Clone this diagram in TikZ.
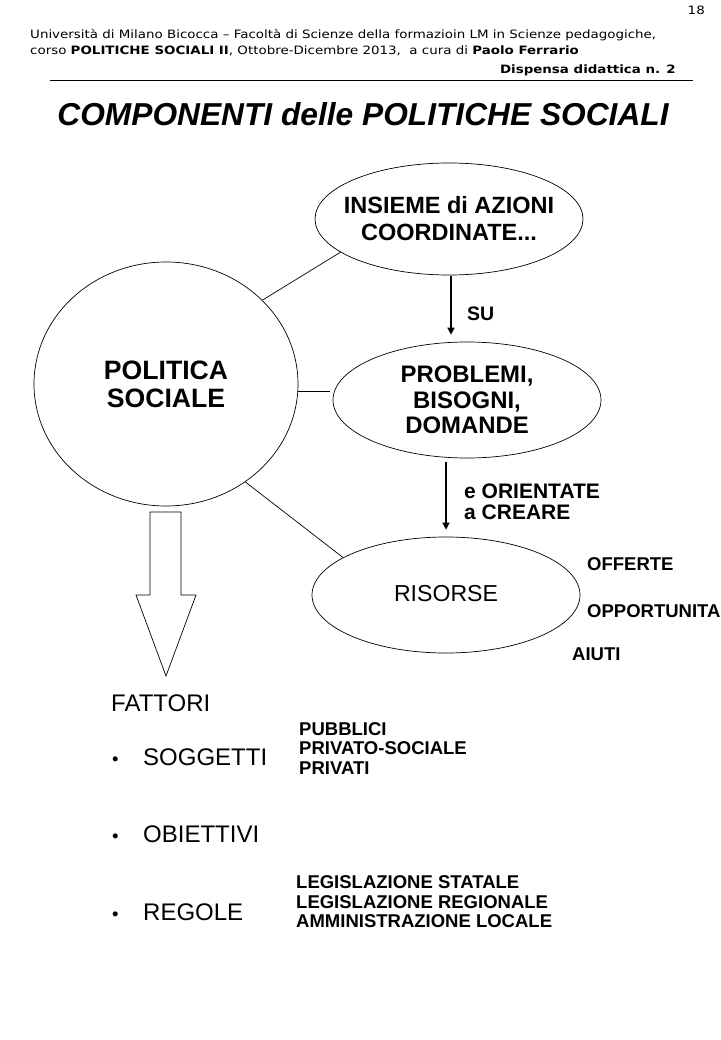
\documentclass[tikz,border=0pt]{standalone}
\usepackage{fontspec}
\setmainfont{Liberation Sans}
\newfontfamily\verd[FakeStretch=1.166]{DejaVu Sans}
\usetikzlibrary{shapes.geometric,arrows.meta}
\begin{document}
\begin{tikzpicture}[x=1pt,y=-1pt,
  ell/.style={ellipse,draw,line width=0.7pt,inner sep=0pt},
  lbl/.style={anchor=base west,inner sep=0pt},
  hdr/.style={anchor=base west,inner sep=0pt,font=\verd\fontsize{11.5}{13}\selectfont},
  etext/.style={align=center,inner sep=0pt,font=\bfseries\fontsize{23.5}{27}\selectfont},
  sidebold/.style={anchor=base west,inner sep=0pt,align=left,font=\bfseries\fontsize{18.5}{20}\selectfont},
  fattore/.style={anchor=base west,inner sep=0pt,font=\fontsize{24}{28}\selectfont},
  bullet/.style={anchor=base west,inner sep=0pt,font=\fontsize{18.5}{20}\selectfont},
  conn/.style={line width=0.7pt},
  arr/.style={line width=1.5pt,-{Triangle[length=7pt,width=7pt]}},
]
\useasboundingbox (0,0) rectangle (720,1040);
\fill[white] (0,0) rectangle (720,1040);

% header
\node[hdr,anchor=base east] (pg) at (705,15) {18};
\node[hdr] (h1) at (30,38.5) {Università di Milano Bicocca – Facoltà di Scienze della formazioin LM in Scienze pedagogiche,};
\node[hdr] (h2) at (30,54.5) {corso \textbf{POLITICHE SOCIALI II}, Ottobre-Dicembre 2013,\ \ a cura di \textbf{Paolo Ferrario}};
\node[hdr,anchor=base east] (h3) at (676,73.5) {\textbf{Dispensa didattica n. 2}};
\draw[line width=1pt] (50,81) -- (693,81);

% title
\node[anchor=base,inner sep=0pt,font=\bfseries\itshape\fontsize{31.7}{36}\selectfont] (title) at (363,126) {COMPONENTI delle POLITICHE SOCIALI};

% shapes
\node[ell,minimum width=268pt,minimum height=112pt] (ins) at (449,219) {};
\node[etext] (inst) at (ins.center) {INSIEME di AZIONI\\COORDINATE...};
\node[ell,minimum width=264pt,minimum height=244pt] (pol) at (166,384) {};
\node[etext,font=\bfseries\fontsize{26.6}{28}\selectfont] (polt) at (pol.center) {POLITICA\\SOCIALE};
\node[ell,minimum width=268pt,minimum height=116pt] (prob) at (467,400) {};
\node[etext,font=\bfseries\fontsize{23.9}{25.5}\selectfont] (probt) at (prob.center) {PROBLEMI,\\BISOGNI,\\DOMANDE};
\node[ell,minimum width=268pt,minimum height=116pt] (ris) at (446,595) {};
\node[etext,font=\fontsize{23.1}{26}\selectfont] (rist) at ([yshift=1pt]ris.center) {RISORSE};

% connectors
\draw[conn] (pol.41) -- (ins.197);
\draw[conn] (pol.-3) -- ([xshift=-3pt]pol.-3 -| prob.west);
\draw[conn] (pol.-51.5) -- (ris.160);
\draw[arr] ([xshift=2pt,yshift=-1pt]ins.south) -- ([xshift=-16pt,yshift=7pt]prob.north);
\draw[arr] ([xshift=-21pt,yshift=-4pt]prob.south) -- ([yshift=7pt]ris.north);

% block arrow
\draw[line width=0.7pt,line join=miter] (150,512) -- (181,512) -- (181,595) -- (196,595) -- (166,676) -- (136,595) -- (150,595) -- cycle;

% labels
\node[lbl,font=\bfseries\fontsize{19.5}{22}\selectfont] (su) at (467,320) {SU};
\node[sidebold,font=\bfseries\fontsize{21}{21}\selectfont] (ori) at (464,498) {e ORIENTATE};
\node[sidebold,font=\bfseries\fontsize{21}{21}\selectfont] (cre) at (464,519) {a CREARE};
\node[sidebold] (off) at (587,570.6) {OFFERTE};
\node[sidebold] (opp) at (587,617.6) {OPPORTUNITA};
\node[sidebold] (aiu) at (572,660.6) {AIUTI};

\node[fattore] (fat) at (111,711.6) {FATTORI};
\node[bullet] (b1) at (112,765) {•};
\node[fattore] (sog) at (143,765) {SOGGETTI};
\node[bullet] (b2) at (112,842) {•};
\node[fattore] (obi) at (143,842) {OBIETTIVI};
\node[bullet] (b3) at (112,920) {•};
\node[fattore] (reg) at (143,920) {REGOLE};

\node[sidebold] (pub) at (299,735.6) {PUBBLICI};
\node[sidebold] (prs) at (299,754.6) {PRIVATO-SOCIALE};
\node[sidebold] (pri) at (299,774.6) {PRIVATI};
\node[sidebold] (ls) at (296,888.6) {LEGISLAZIONE STATALE};
\node[sidebold] (lr) at (296,908.6) {LEGISLAZIONE REGIONALE};
\node[sidebold] (al) at (296,927.6) {AMMINISTRAZIONE LOCALE};
\end{tikzpicture}
\end{document}
